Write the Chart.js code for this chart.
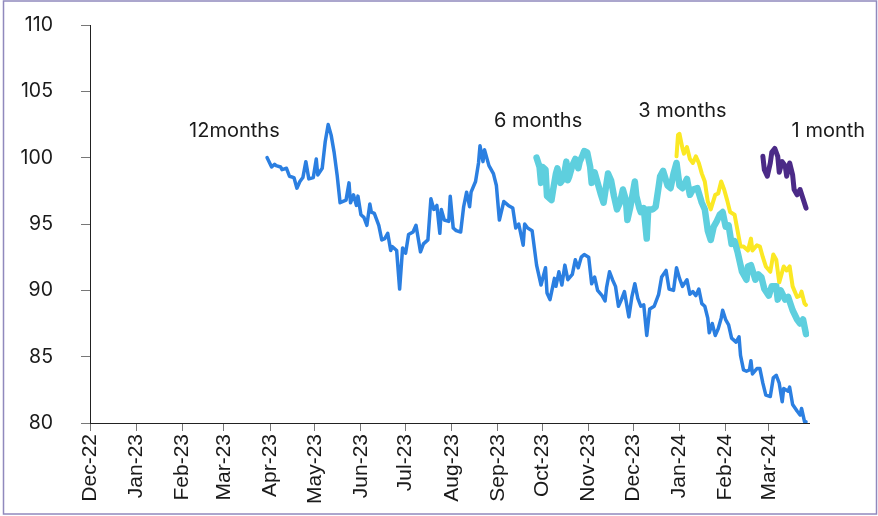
<!DOCTYPE html>
<html>
<head>
<meta charset="utf-8">
<script src="https://cdn.jsdelivr.net/npm/chart.js@4.4.1/dist/chart.umd.min.js"></script>
<style>
  html, body { margin: 0; padding: 0; background: #fff; }
  canvas { display: block; }
</style>
</head>
<body>
<canvas id="chart" width="878" height="516"></canvas>
<script>
// x values are days since 1 Dec 2022
const monthDays = [0, 31, 62, 90, 121, 151, 182, 212, 243, 274, 304, 335, 365, 396, 427, 456];
const monthLabels = ['Dec-22', 'Jan-23', 'Feb-23', 'Mar-23', 'Apr-23', 'May-23', 'Jun-23', 'Jul-23',
  'Aug-23', 'Sep-23', 'Oct-23', 'Nov-23', 'Dec-23', 'Jan-24', 'Feb-24', 'Mar-24'];
const lastDay = 483;

// 12 months
const days12m = [119, 122, 124, 125, 128, 129, 132, 134, 137, 139, 141, 143, 145, 147, 150, 152, 153, 156, 158, 160,
  162, 164, 166, 168, 170, 172, 174, 175, 177, 179, 180, 182, 184, 186, 188, 189, 191, 194, 196, 198,
  200, 202, 203, 206, 208, 210, 212, 214, 217, 219, 222, 224, 227, 229, 231, 233, 235, 236, 238, 241,
  242, 244, 246, 249, 251, 253, 255, 256, 259, 261, 262, 264, 265, 268, 271, 273, 275, 278, 281, 284,
  286, 288, 291, 292, 294, 297,
  300, 303, 306, 307, 309, 312, 313, 315, 317, 319, 321, 324, 326, 328, 330, 332, 335, 337, 339, 341,
  344, 346, 347, 349, 351, 353, 355, 357, 359, 362, 364, 366, 368, 370, 372, 374, 376, 379, 382, 384,
  387, 389, 392, 394, 396, 398, 401, 403, 405, 407, 409, 411, 413, 415, 416, 418, 420, 422, 424, 425,
  427, 429, 431, 434, 436, 437, 439, 441, 443, 444, 445, 448, 450, 452, 454, 457, 459, 461, 463, 465,
  466, 469, 470, 472, 475, 477, 478, 480, 481];
const values12m = [100.0, 99.3, 99.5, 99.4, 99.3, 99.1, 99.2, 98.6, 98.5, 97.7, 98.2, 98.5, 99.7, 98.4, 98.5, 99.9, 98.7, 99.2, 101.2, 102.5,
  101.7, 100.4, 98.7, 96.6, 96.7, 96.8, 98.1, 96.6, 97.2, 96.4, 97.1, 95.7, 95.5, 94.9, 96.5, 95.9, 95.8, 94.9, 93.8, 93.9,
  94.3, 93.0, 93.3, 93.0, 90.1, 93.2, 92.8, 94.2, 94.4, 94.9, 92.9, 93.5, 93.8, 96.9, 96.1, 96.4, 94.3, 96.1, 95.3, 95.2,
  97.1, 94.7, 94.5, 94.4, 96.3, 97.4, 96.3, 97.4, 98.2, 99.6, 100.9, 99.7, 100.6, 99.4, 98.8, 97.9, 95.3, 96.7, 96.4, 96.2,
  94.7, 95.0, 93.4, 95.0, 94.7, 94.5,
  91.9, 90.4, 91.7, 89.8, 89.3, 90.9, 90.3, 91.4, 90.4, 91.9, 90.8, 91.2, 92.3, 91.7, 92.5, 92.7, 92.5, 90.5, 91.0, 90.0,
  89.6, 89.2, 90.2, 91.4, 90.8, 90.3, 88.8, 89.3, 89.9, 88.0, 89.5, 90.5, 89.4, 88.8, 88.9, 86.6, 88.6, 88.8, 89.7, 91.0,
  91.5, 90.1, 90.0, 91.7, 90.9, 90.3, 90.8, 89.7, 89.9, 89.6, 90.1, 89.0, 88.8, 87.9, 86.8, 87.5, 86.6, 87.1, 87.9, 88.5,
  87.8, 87.4, 86.4, 86.1, 86.5, 85.1, 84.0, 83.9, 84.0, 84.7, 83.7, 84.1, 84.1, 83.0, 82.1, 82.0, 83.4, 83.6, 83.0, 81.6,
  82.6, 82.4, 82.7, 81.4, 80.9, 80.6, 81.1, 80.1, 80.1];

// 6 months
const days6m = [300, 302, 303, 304, 306, 307, 310, 311, 313, 314, 316, 318, 320, 321, 322, 324, 326, 328, 329, 331,
  332, 334, 336, 337, 339, 341, 343, 345, 348, 350, 352, 354, 356, 358, 360, 361, 363, 366, 367, 369,
  370, 372, 374, 375, 378, 380, 382, 383, 385, 388, 390, 392, 394, 396, 398, 401, 403, 405, 408, 411,
  413, 415, 417, 419, 421, 423, 425, 427, 429, 431, 433, 435, 438, 441, 442, 444, 447, 449, 451, 453,
  456, 458, 461, 462, 464, 467, 469, 472, 475, 477, 479, 481];
const values6m = [100.0, 99.3, 98.1, 99.3, 99.1, 97.1, 96.8, 97.5, 98.8, 99.2, 98.1, 98.4, 99.7, 98.3, 98.6, 99.4, 99.9, 99.2, 99.7, 100.2,
  100.5, 100.4, 99.3, 98.1, 98.9, 98.1, 97.3, 96.6, 98.8, 98.3, 97.1, 96.1, 96.6, 97.6, 96.8, 95.3, 96.3, 98.2, 97.1, 96.2,
  95.9, 96.2, 93.9, 96.1, 96.1, 96.3, 97.8, 98.6, 99.0, 97.9, 97.7, 98.8, 99.6, 97.9, 97.7, 98.4, 97.2, 97.6, 97.7, 96.6,
  96.1, 94.5, 93.8, 94.8, 95.2, 95.7, 95.9, 94.8, 94.9, 93.5, 93.7, 92.9, 91.4, 90.8, 91.8, 91.9, 90.8, 91.2, 91.0, 90.1,
  89.6, 90.3, 90.3, 89.3, 90.0, 89.3, 89.5, 88.5, 87.8, 87.5, 87.8, 86.7];

// 3 months
const days3m = [394, 395, 396, 398, 399, 401, 403, 405, 407, 409, 411, 413, 415, 417, 420, 422, 424, 426, 428, 430,
  433, 435, 437, 439, 442, 444, 445, 448, 450, 452, 454, 457, 459, 461, 463, 466, 468, 470, 472, 475,
  477, 478, 480, 481];
const values3m = [100.1, 101.7, 101.8, 100.7, 100.3, 100.8, 99.9, 99.6, 100.1, 99.6, 98.8, 98.2, 96.7, 96.1, 97.2, 97.3, 98.2, 97.6, 96.8, 95.9,
  95.7, 94.5, 93.3, 93.3, 93.0, 93.9, 93.0, 93.4, 93.3, 92.5, 91.8, 91.4, 92.7, 92.3, 90.6, 91.8, 91.5, 91.8, 90.3, 89.5,
  89.6, 89.9, 89.0, 88.9];

// 1 month
const days1m = [452, 453, 455, 457, 458, 460, 462, 463, 465, 467, 468, 470, 472, 473, 475, 477, 479, 481];
const values1m = [100.1, 99.1, 98.6, 99.6, 100.4, 100.7, 100.1, 98.9, 99.7, 99.4, 98.6, 99.6, 98.7, 97.6, 97.2, 97.6, 96.9, 96.2];

const seriesNames = ['12months', '6 months', '3 months', '1 month'];
const labelDays = [97, 301, 398, 496];
const labelValues = [102.0, 102.8, 103.5, 102.0];

function toPoints(days, values) {
  return days.map((d, i) => ({ x: d, y: values[i] }));
}

const textColor = '#1a1a1a';

// series names written next to the lines, plus the thin frame round the picture
const extrasPlugin = {
  id: 'extras',
  afterDatasetsDraw(chart) {
    const ctx = chart.ctx;
    const xs = chart.scales.x, ys = chart.scales.y;
    ctx.save();
    ctx.fillStyle = textColor;
    ctx.font = '20px Inter, "Noto Sans", sans-serif';
    ctx.textAlign = 'center';
    ctx.textBaseline = 'middle';
    seriesNames.forEach((name, i) => {
      ctx.fillText(name, xs.getPixelForValue(labelDays[i]), ys.getPixelForValue(labelValues[i]));
    });
    ctx.strokeStyle = '#9089bd';
    ctx.lineWidth = 1.5;
    ctx.strokeRect(3.5, 1, chart.width - 5, chart.height - 3);
    ctx.restore();
  }
};

const lineStyle = {
  pointRadius: 0,
  tension: 0,
  fill: false,
  borderJoinStyle: 'round',
  borderCapStyle: 'round'
};

new Chart(document.getElementById('chart').getContext('2d'), {
  type: 'line',
  data: {
    datasets: [
      Object.assign({ label: seriesNames[0], data: toPoints(days12m, values12m), borderColor: '#2b7fe1', borderWidth: 3.5 }, lineStyle),
      Object.assign({ label: seriesNames[1], data: toPoints(days6m, values6m), borderColor: '#5ecfde', borderWidth: 6.5 }, lineStyle),
      Object.assign({ label: seriesNames[2], data: toPoints(days3m, values3m), borderColor: '#fbe824', borderWidth: 4 }, lineStyle),
      Object.assign({ label: seriesNames[3], data: toPoints(days1m, values1m), borderColor: '#4b2a87', borderWidth: 5 }, lineStyle)
    ]
  },
  options: {
    responsive: false,
    animation: false,
    layout: { padding: { left: 0, top: 25, right: 69, bottom: 0 } },
    plugins: {
      legend: { display: false },
      tooltip: { enabled: false }
    },
    scales: {
      x: {
        type: 'linear',
        min: 0,
        max: lastDay,
        afterBuildTicks: (scale) => {
          scale.ticks = monthDays.map(v => ({ value: v }));
        },
        afterFit: (scale) => { scale.height = 93; },
        grid: { display: true, drawOnChartArea: false, drawTicks: true, tickLength: 8, color: '#777' },
        border: { display: true, color: '#222', width: 1 },
        ticks: {
          autoSkip: false,
          minRotation: 90,
          maxRotation: 90,
          padding: 3,
          color: textColor,
          font: { family: '"Liberation Sans", Arial, sans-serif', size: 21 },
          callback: (value) => monthLabels[monthDays.indexOf(value)]
        }
      },
      y: {
        min: 80,
        max: 110,
        afterFit: (scale) => {
          scale.width = 90;
          scale.paddingTop = 0;
          scale.paddingBottom = 0;
        },
        grid: { display: true, drawOnChartArea: false, drawTicks: true, tickLength: 9, color: '#777' },
        border: { display: true, color: '#222', width: 1 },
        ticks: {
          stepSize: 5,
          padding: 28,
          color: textColor,
          font: { family: 'Inter, "Noto Sans", sans-serif', size: 19.5 }
        }
      }
    }
  },
  plugins: [extrasPlugin]
});
</script>
</body>
</html>
